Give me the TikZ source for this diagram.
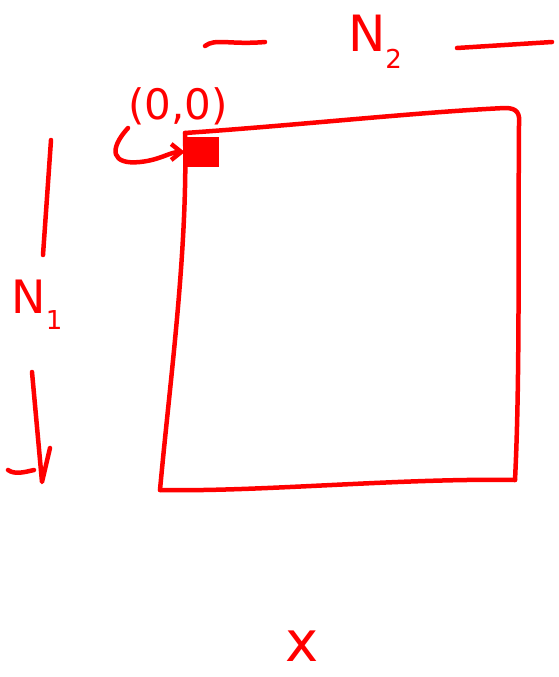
\documentclass[tikz,border=0pt]{standalone}
\usepackage{fontspec}
\setmainfont{DejaVu Sans}
\usetikzlibrary{arrows.meta}
\definecolor{pen}{RGB}{255,0,0}
\newcommand{\subtxt}[1]{\raisebox{-0.35em}{\fontsize{26}{28}\selectfont #1}}
\begin{document}
\begin{tikzpicture}[x=1pt,y=-1pt,
  stroke/.style={draw=pen,line width=4.5pt,line cap=round,line join=round},
  lbl/.style={text=pen,inner sep=0pt,font=\fontsize{42}{46}\selectfont}]
\useasboundingbox (0,0) rectangle (558,677);
% square corners
\coordinate (tl) at (185,133);
\coordinate (tr) at (515,110);
\coordinate (br) at (515,480);
\coordinate (bl) at (160,490);
\draw[stroke] (tl) .. controls (300,125) and (420,112) .. (505,108)
  .. controls (518,108) and (520,114) .. (519,125)
  .. controls (518,250) and (520,380) .. (br);
\draw[stroke] (bl) .. controls (260,492) and (400,478) .. (br);
\draw[stroke] (tl) .. controls (188,250) and (170,380) .. (bl);
% origin marker
\node[fill=pen,minimum width=34pt,minimum height=30pt,inner sep=0pt] (org) at (202,152) {};
% (0,0) label and curl
\node[lbl] (o) at (178,106) {(0,0)};
\coordinate (c1) at (128,128);
\draw[stroke,-{Straight Barb[length=10pt,width=16pt]}] (c1) .. controls (108,150) and (112,165) .. (140,162)
  .. controls (160,160) and (170,152) .. (org.west);
% N2
\node[lbl,font=\fontsize{50}{54}\selectfont] (n2) at (375,42) {N\subtxt{2}};
\coordinate (a1) at (205,46);
\coordinate (a2) at (265,42);
\coordinate (b1) at (457,48);
\coordinate (b2) at (552,42);
\draw[stroke] (a1) .. controls (215,38) and (230,45) .. (a2);
\draw[stroke] (b1) -- (b2);
% N1
\node[lbl,font=\fontsize{46}{50}\selectfont] (n1) at (37,305) {N\subtxt{1}};
\coordinate (v1) at (51,140);
\coordinate (v2) at (43,255);
\coordinate (w1) at (32,372);
\coordinate (w2) at (42,482);
\coordinate (hk) at (8,470);
\draw[stroke] (v1) -- (v2);
\draw[stroke] (w1) -- (w2) -- (50,448);
\draw[stroke] (hk) .. controls (15,475) and (25,472) .. (34,470);
% x
\node[lbl,font=\fontsize{56}{60}\selectfont] (x) at (302,646) {x};
\end{tikzpicture}
\end{document}
